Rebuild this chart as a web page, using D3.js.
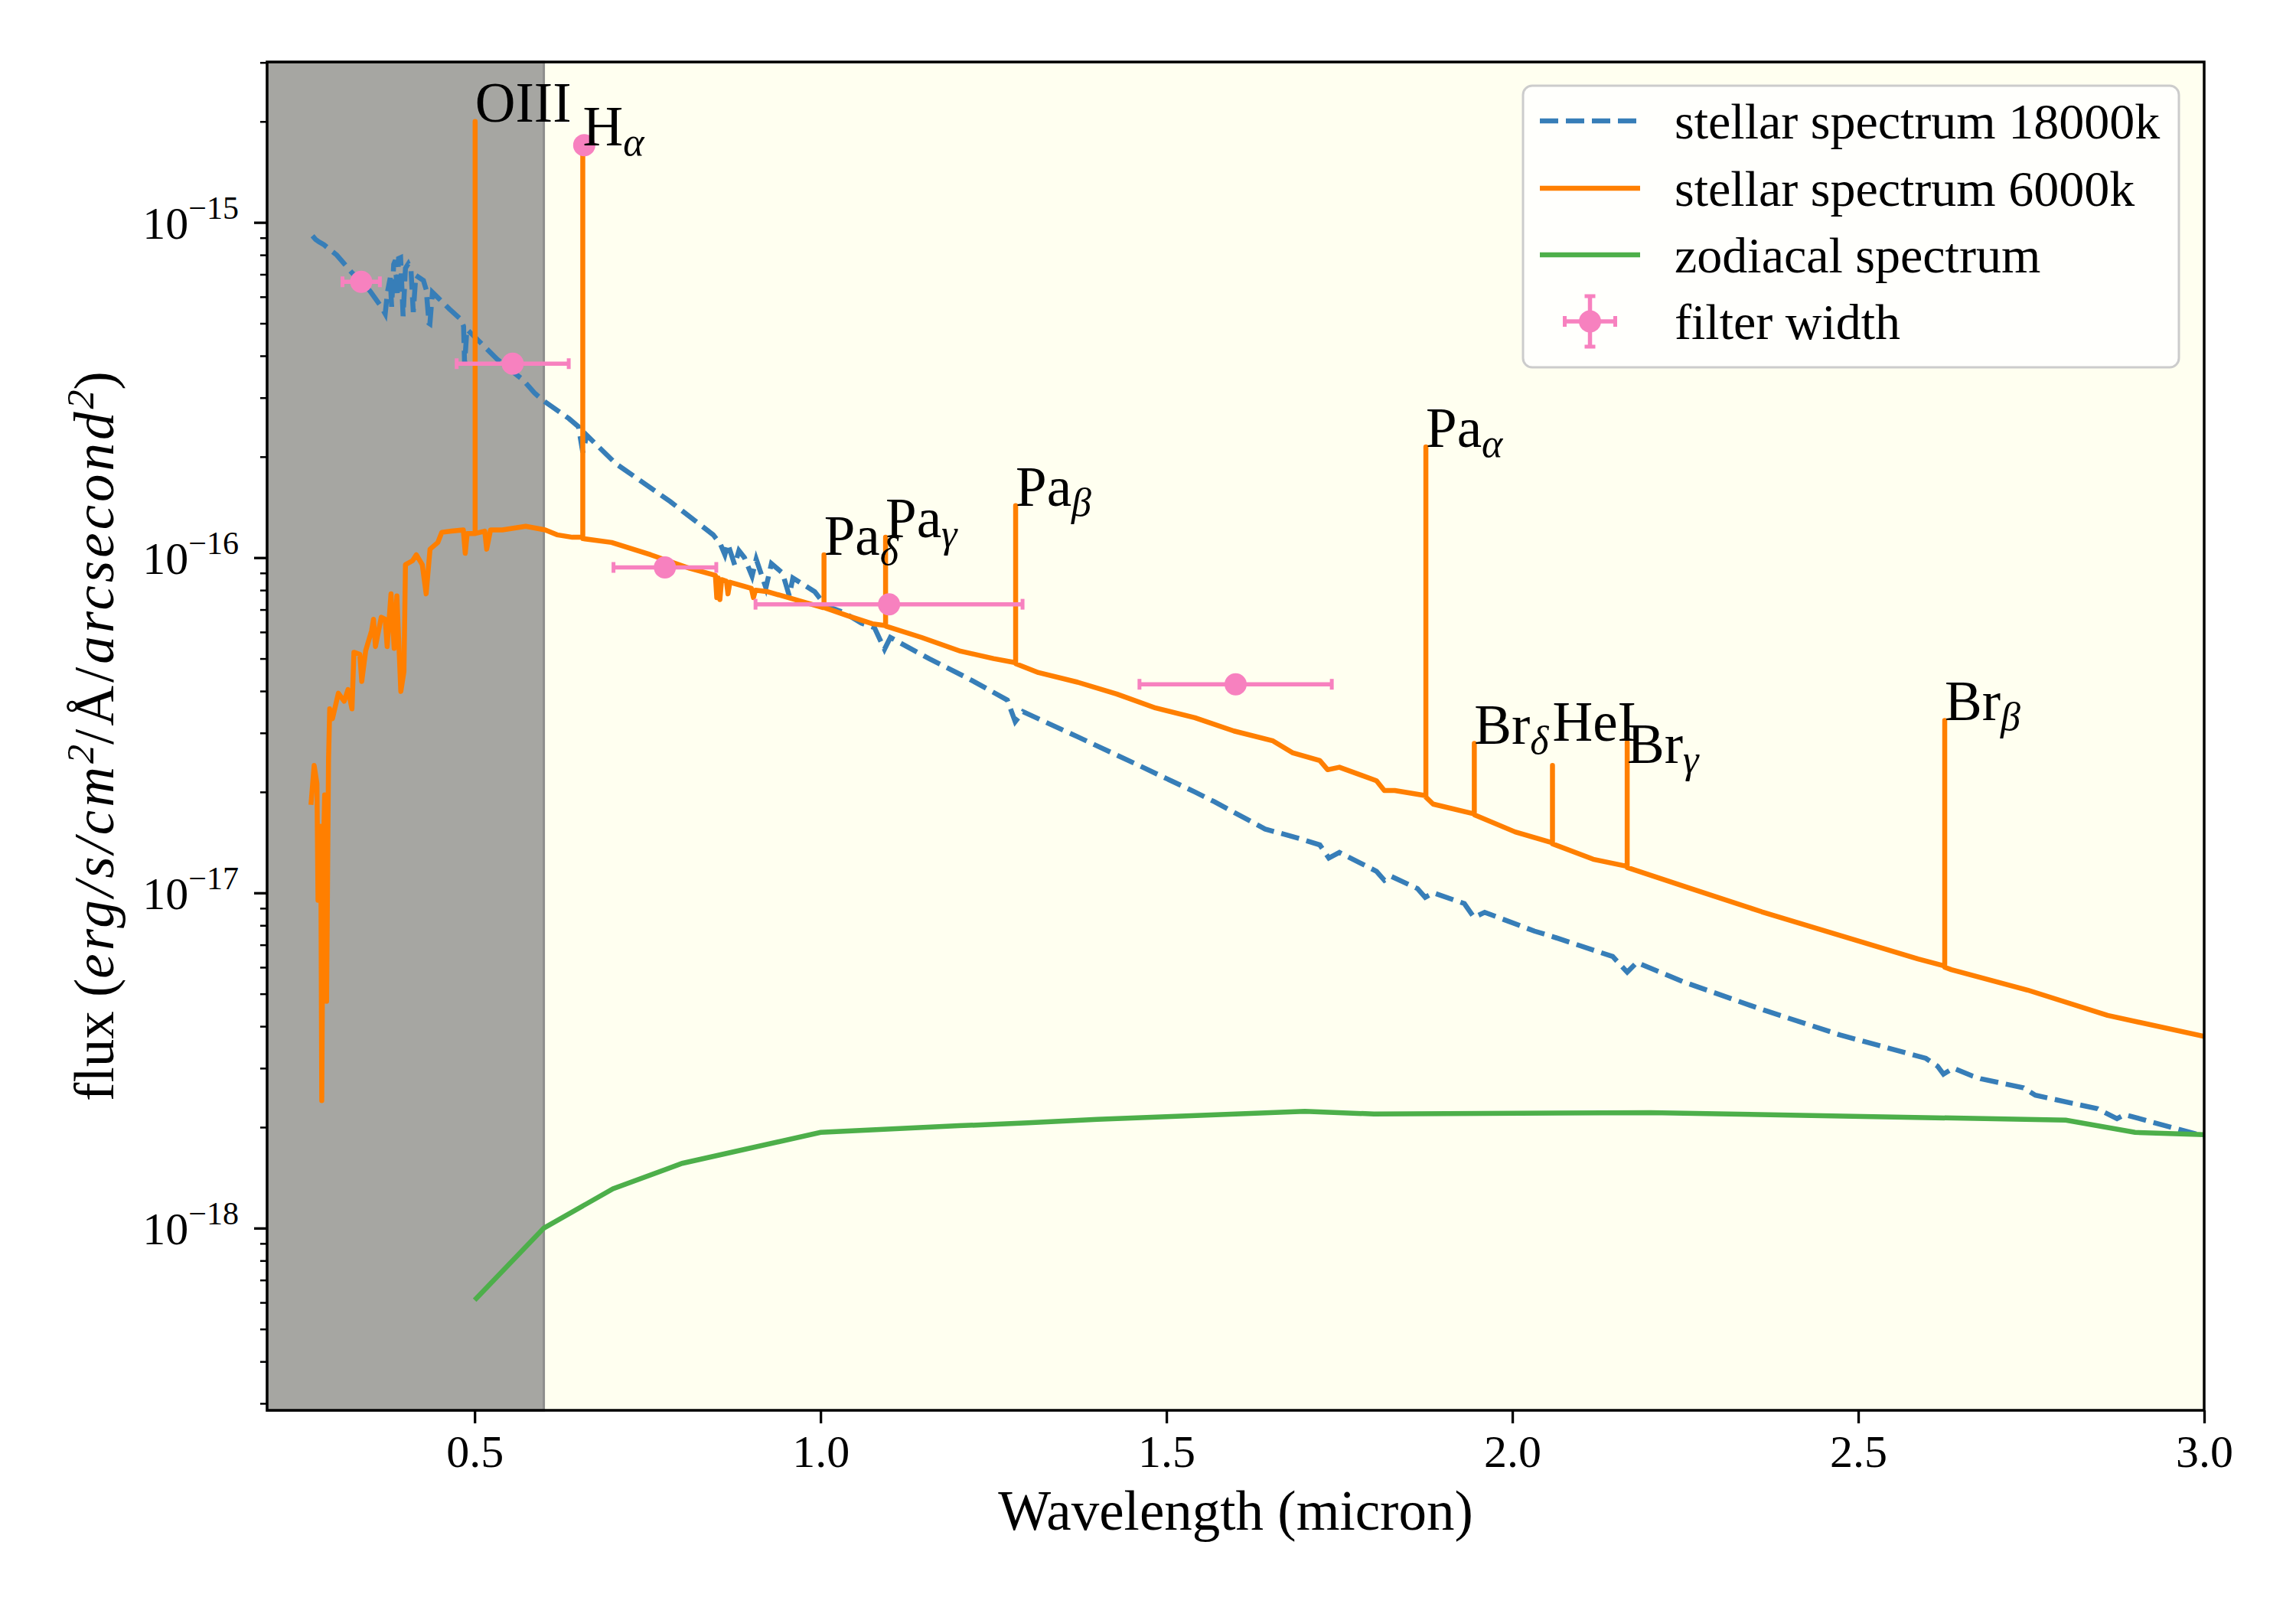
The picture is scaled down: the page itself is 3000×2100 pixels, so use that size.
<!DOCTYPE html>
<html>
<head>
<meta charset="utf-8">
<script src="https://cdn.jsdelivr.net/npm/d3@7"></script>
<style>
  body { margin: 0; background: #fff; }
  text { font-family: "Liberation Serif", serif; fill: #000; }
</style>
</head>
<body>
<div id="fig"></div>
<script>
// stellar spectrum 18000k : [wavelength (micron), flux]
var star18000 = [
  [0.2656,9.12e-16],[0.2700,8.9e-16],[0.2750,8.75e-16],[0.2820,8.58e-16],[0.3007,7.99e-16],
  [0.3228,7.07e-16],[0.3486,6.25e-16],[0.3650,5.6e-16],[0.3707,5.34e-16],[0.3740,6.2e-16],
  [0.3780,6.83e-16],[0.3800,5.6e-16],[0.3830,7.5e-16],[0.3855,7.71e-16],[0.3880,6.0e-16],
  [0.3900,7.8e-16],[0.3930,7.85e-16],[0.3966,5.25e-16],[0.4000,7.3e-16],[0.4040,7.52e-16],
  [0.4080,7.2e-16],[0.4113,5.40e-16],[0.4150,6.95e-16],[0.4260,6.71e-16],[0.4300,6.3e-16],
  [0.4340,5.0e-16],[0.4353,4.98e-16],[0.4390,6.19e-16],[0.4482,5.93e-16],[0.4630,5.53e-16],
  [0.4796,5.15e-16],[0.4840,4.9e-16],[0.4855,3.76e-16],[0.4888,4.80e-16],[0.4962,4.64e-16],
  [0.5330,3.90e-16],[0.5700,3.39e-16],[0.5865,3.10e-16],[0.5994,2.94e-16],[0.6362,2.60e-16],
  [0.6500,2.46e-16],[0.6563,2.06e-16],[0.6620,2.32e-16],[0.7037,1.91e-16],[0.7827,1.47e-16],
  [0.8448,1.17e-16],[0.8550,1.1e-16],[0.8617,1.02e-16],[0.8660,1.1e-16],[0.8760,9.5e-17],
  [0.8820,1.05e-16],[0.8900,1.0e-16],[0.9010,8.8e-17],[0.9070,9.9e-17],[0.9210,8.13e-17],
  [0.9290,9.6e-17],[0.9450,9.0e-17],[0.9548,7.69e-17],[0.9600,8.7e-17],[0.9916,7.91e-17],
  [1.005,7.3e-17],[1.014,7.10e-17],[1.033,6.87e-17],[1.059,6.38e-17],[1.078,6.18e-17],
  [1.0924,5.33e-17],[1.1009,5.78e-17],[1.1573,4.99e-17],[1.2137,4.36e-17],[1.270,3.76e-17],
  [1.2814,3.24e-17],[1.2927,3.47e-17],[1.3718,2.92e-17],[1.4564,2.42e-17],[1.541,2.00e-17],
  [1.5693,1.87e-17],[1.6426,1.55e-17],[1.6935,1.45e-17],[1.7217,1.39e-17],[1.7347,1.27e-17],
  [1.750,1.32e-17],[1.8036,1.16e-17],[1.8150,1.09e-17],[1.8250,1.12e-17],[1.8628,1.03e-17],
  [1.874,9.70e-18],[1.886,1.0e-17],[1.9306,9.29e-18],[1.9446,8.45e-18],[1.960,8.75e-18],
  [2.032,7.69e-18],[2.0586,7.40e-18],[2.145,6.46e-18],[2.166,5.80e-18],[2.180,6.2e-18],
  [2.248,5.42e-18],[2.3606,4.49e-18],[2.4735,3.77e-18],[2.5977,3.21e-18],[2.6147,3.04e-18],
  [2.6232,2.88e-18],[2.6373,3.0e-18],[2.6655,2.84e-18],[2.677,2.79e-18],[2.739,2.62e-18],
  [2.756,2.49e-18],[2.846,2.27e-18],[2.874,2.12e-18],[2.885,2.18e-18],[3.0,1.88e-18]
];

// stellar spectrum 6000k, emission lines included as spikes
var star6000 = [
  [0.2634,1.83e-17],[0.2680,2.40e-17],[0.2720,2.12e-17],[0.2736,9.5e-18],[0.2775,1.58e-17],
  [0.2790,2.4e-18],[0.2810,1.2e-17],[0.2832,1.96e-17],[0.2860,4.75e-18],[0.2888,2.50e-17],
  [0.2905,3.54e-17],[0.2945,3.31e-17],[0.3030,3.94e-17],[0.3114,3.73e-17],[0.3170,4.04e-17],
  [0.3227,3.54e-17],[0.3255,5.22e-17],[0.3340,5.15e-17],[0.3368,4.27e-17],[0.3425,5.28e-17],
  [0.3510,6.05e-17],[0.3538,6.55e-17],[0.3566,5.43e-17],[0.3650,6.64e-17],[0.3707,6.55e-17],
  [0.3735,5.43e-17],[0.3791,7.80e-17],[0.3837,5.36e-17],[0.3876,7.69e-17],[0.3933,3.99e-17],
  [0.3978,4.57e-17],[0.4000,9.53e-17],[0.4102,9.79e-17],[0.4157,1.02e-16],[0.4243,9.53e-17],
  [0.4299,7.80e-17],[0.4355,1.06e-16],[0.4468,1.11e-16],[0.4525,1.19e-16],[0.4667,1.20e-16],
  [0.4836,1.21e-16],[0.4864,1.03e-16],[0.4892,1.18e-16],
  [0.5007,1.18e-16],[0.5007,2.0e-15],[0.5007,1.18e-16],
  [0.5146,1.20e-16],[0.5174,1.06e-16],[0.5230,1.21e-16],[0.5400,1.21e-16],[0.5738,1.24e-16],
  [0.6020,1.21e-16],[0.6190,1.17e-16],[0.6414,1.15e-16],
  [0.6563,1.15e-16],[0.6563,1.7e-15],[0.6563,1.14e-16],
  [0.6980,1.11e-16],[0.7545,1.02e-16],[0.8110,9.29e-17],[0.8480,8.85e-17],[0.8500,7.6e-17],
  [0.8520,8.7e-17],[0.8545,7.5e-17],[0.8570,8.6e-17],[0.8640,8.5e-17],[0.8662,7.8e-17],
  [0.8690,8.45e-17],[0.9000,8.1e-17],[0.9030,7.6e-17],[0.9060,8.0e-17],[0.9239,7.91e-17],
  [1.003,7.10e-17],
  [1.005,7.16e-17],[1.005,1.02e-16],[1.005,7.10e-17],
  [1.040,6.7e-17],[1.075,6.35e-17],
  [1.094,6.27e-17],[1.094,1.15e-16],[1.094,6.25e-17],
  [1.146,5.78e-17],[1.2023,5.26e-17],[1.250,5.0e-17],
  [1.282,4.86e-17],[1.282,1.43e-16],[1.282,4.83e-17],
  [1.315,4.54e-17],[1.3716,4.25e-17],[1.428,3.92e-17],[1.4844,3.56e-17],[1.541,3.33e-17],
  [1.5975,3.04e-17],[1.654,2.84e-17],[1.682,2.62e-17],[1.7217,2.48e-17],[1.733,2.33e-17],
  [1.750,2.37e-17],[1.8036,2.16e-17],[1.8149,2.02e-17],[1.830,2.02e-17],
  [1.875,1.95e-17],[1.875,2.14e-16],[1.875,1.93e-17],
  [1.8854,1.84e-17],
  [1.945,1.72e-17],[1.945,2.79e-17],[1.945,1.71e-17],
  [2.004,1.52e-17],
  [2.058,1.41e-17],[2.058,2.40e-17],[2.058,1.40e-17],
  [2.1168,1.26e-17],
  [2.166,1.20e-17],[2.166,2.81e-17],[2.166,1.19e-17],
  [2.258,1.03e-17],[2.3606,8.78e-18],[2.4735,7.47e-18],[2.5864,6.35e-18],
  [2.625,6.05e-18],[2.625,3.27e-17],[2.625,6.0e-18],
  [2.6345,5.90e-18],[2.7446,5.13e-18],[2.8604,4.31e-18],[3.0,3.73e-18]
];

// zodiacal spectrum
var zodiacal = [
  [0.5,6.1e-19],[0.6,1.0e-18],[0.7,1.31e-18],[0.8,1.56e-18],[1.0,1.93e-18],[1.2,2.02e-18],
  [1.3,2.06e-18],[1.4,2.11e-18],[1.5,2.15e-18],[1.7,2.23e-18],[1.8,2.19e-18],[2.2,2.21e-18],
  [2.8,2.10e-18],[2.9,1.93e-18],[3.0,1.90e-18]
];

// filter width points
var filterCenter = [0.336, 0.555, 0.6584, 0.775, 1.099, 1.600];
var filterFlux   = [6.65e-16, 3.79e-16, 1.70e-15, 9.35e-17, 7.26e-17, 4.19e-17];
var filterHalf   = [0.027, 0.081, 0.003, 0.0743, 0.193, 0.139];

// emission line labels
var lineNames = ["OIII", "H", "Pa", "Pa", "Pa", "Pa", "Br", "HeI", "Br", "Br"];
var lineSubs  = ["", "α", "δ", "γ", "β", "α", "δ", "", "γ", "β"];
var lineWave  = [0.5007, 0.6563, 1.005, 1.094, 1.282, 1.875, 1.945, 2.058, 2.166, 2.625];
var labelFlux = [2.0e-15, 1.7e-15, 1.02e-16, 1.15e-16, 1.43e-16, 2.14e-16, 2.79e-17, 2.84e-17, 2.44e-17, 3.27e-17];

var xTicks = [0.5, 1.0, 1.5, 2.0, 2.5, 3.0];
var yTicksMajor = [1e-18, 1e-17, 1e-16, 1e-15];
var yTickExp = ["−18", "−17", "−16", "−15"];

var legendLabels = ["stellar spectrum 18000k", "stellar spectrum 6000k", "zodiacal spectrum", "filter width"];

var blue = "#377eb8", orange = "#ff7f00", green = "#4daf4a", pink = "#f781bf";
var lw = 6.5;

var W = 3000, H = 2100;
var pL = 349, pR = 2880, pT = 81, pB = 1843;

var svg = d3.select("#fig").append("svg")
  .attr("width", W).attr("height", H);

var x = d3.scaleLinear().domain([0.2, 3.0]).range([pL, pR]);
var y = d3.scaleLog().domain([2.86e-19, 3.01e-15]).range([pB, pT]);

svg.append("defs").append("clipPath").attr("id", "clip")
  .append("rect").attr("x", pL).attr("y", pT)
  .attr("width", pR - pL).attr("height", pB - pT);

// axes background
svg.append("rect").attr("x", pL).attr("y", pT)
  .attr("width", pR - pL).attr("height", pB - pT)
  .attr("fill", "#fffff0");

// blocked region
svg.append("rect").attr("x", x(0.2)).attr("y", pT)
  .attr("width", x(0.6) - x(0.2)).attr("height", pB - pT)
  .attr("fill", "#a6a6a2").attr("stroke", "#8e8e8c").attr("stroke-width", 3);

var plot = svg.append("g").attr("clip-path", "url(#clip)");
var line = d3.line().x(function(d) { return x(d[0]); }).y(function(d) { return y(d[1]); });

plot.append("path").datum(star18000).attr("d", line)
  .attr("fill", "none").attr("stroke", blue).attr("stroke-width", lw)
  .attr("stroke-dasharray", "24,10");

plot.append("path").datum(star6000).attr("d", line)
  .attr("fill", "none").attr("stroke", orange).attr("stroke-width", lw)
  .attr("stroke-linejoin", "round");

plot.append("path").datum(zodiacal).attr("d", line)
  .attr("fill", "none").attr("stroke", green).attr("stroke-width", lw);

// filter error bars
var eb = plot.append("g");
filterCenter.forEach(function(c, i) {
  var yy = y(filterFlux[i]), x0 = x(c - filterHalf[i]), x1 = x(c + filterHalf[i]);
  eb.append("line").attr("x1", x0).attr("x2", x1).attr("y1", yy).attr("y2", yy)
    .attr("stroke", pink).attr("stroke-width", 5.5);
  [x0, x1].forEach(function(xc) {
    eb.append("line").attr("x1", xc).attr("x2", xc).attr("y1", yy - 7).attr("y2", yy + 7)
      .attr("stroke", pink).attr("stroke-width", 5);
  });
  eb.append("circle").attr("cx", x(c)).attr("cy", yy).attr("r", 14.5).attr("fill", pink);
});

// line labels
lineNames.forEach(function(n, i) {
  var t = svg.append("text").attr("x", x(lineWave[i])).attr("y", y(labelFlux[i]))
    .style("font-size", "73px");
  t.append("tspan").text(n);
  if (lineSubs[i]) {
    t.append("tspan").attr("dy", 13).style("font-size", "52px")
      .style("font-style", "italic").text(lineSubs[i]);
  }
});

// x axis
var xAxis = d3.axisBottom(x).tickValues(xTicks).tickFormat(d3.format(".1f"))
  .tickSize(17).tickSizeOuter(0).tickPadding(14);
var gx = svg.append("g").attr("transform", "translate(0," + pB + ")").call(xAxis);
gx.select(".domain").remove();
gx.selectAll(".tick line").attr("stroke", "#000").attr("stroke-width", 3.3);
gx.selectAll(".tick text").style("font-size", "60px").style("font-family", "Liberation Serif, serif");

// y axis: minor ticks
var minor = [];
for (var e = -19; e <= -15; e++) {
  for (var m = 2; m <= 9; m++) {
    var v = m * Math.pow(10, e);
    if (v >= y.domain()[0] && v <= y.domain()[1]) minor.push(v);
  }
}
var gyMinor = svg.append("g").attr("transform", "translate(" + pL + ",0)")
  .call(d3.axisLeft(y).tickValues(minor).tickFormat("").tickSize(9).tickSizeOuter(0));
gyMinor.select(".domain").remove();
gyMinor.selectAll(".tick line").attr("stroke", "#000").attr("stroke-width", 2.5);

var gy = svg.append("g").attr("transform", "translate(" + pL + ",0)")
  .call(d3.axisLeft(y).tickValues(yTicksMajor).tickFormat("").tickSize(17).tickSizeOuter(0));
gy.select(".domain").remove();
gy.selectAll(".tick line").attr("stroke", "#000").attr("stroke-width", 3.3);

yTicksMajor.forEach(function(v, i) {
  var t = svg.append("text").attr("x", pL - 37).attr("y", y(v) + 21)
    .attr("text-anchor", "end").style("font-size", "60px");
  t.append("tspan").text("10");
  t.append("tspan").attr("dy", -26).style("font-size", "42px").text(yTickExp[i]);
});

// frame
svg.append("rect").attr("x", pL).attr("y", pT)
  .attr("width", pR - pL).attr("height", pB - pT)
  .attr("fill", "none").attr("stroke", "#000").attr("stroke-width", 3.5);

// axis labels
svg.append("text").attr("x", (pL + pR) / 2).attr("y", 1999)
  .attr("text-anchor", "middle").style("font-size", "73px").text("Wavelength (micron)");

var yl = svg.append("text").attr("transform", "translate(148," + ((pT + pB) / 2) + ") rotate(-90)")
  .attr("text-anchor", "middle").style("font-size", "73px");
yl.append("tspan").text("flux (");
yl.append("tspan").style("font-style", "italic").style("letter-spacing", "4px").text("erg/s/cm");
yl.append("tspan").attr("dy", -26).style("font-size", "50px").style("font-style", "italic").text("2");
yl.append("tspan").attr("dy", 26).style("letter-spacing", "4px").text("/Å/");
yl.append("tspan").style("font-style", "italic").style("letter-spacing", "4px").text("arcsecond");
yl.append("tspan").attr("dy", -26).style("font-size", "50px").style("font-style", "italic").text("2");
yl.append("tspan").attr("dy", 26).text(")");

// legend
var lg = svg.append("g");
lg.append("rect").attr("x", 1990).attr("y", 112).attr("width", 857).attr("height", 368)
  .attr("rx", 12).attr("fill", "#ffffff").attr("fill-opacity", 0.8)
  .attr("stroke", "#cccccc").attr("stroke-width", 3);
var rowY = [158, 246, 333, 420];
var sx0 = 2012, sx1 = 2143;
lg.append("line").attr("x1", sx0).attr("x2", sx1).attr("y1", rowY[0]).attr("y2", rowY[0])
  .attr("stroke", blue).attr("stroke-width", lw).attr("stroke-dasharray", "24,10");
lg.append("line").attr("x1", sx0).attr("x2", sx1).attr("y1", rowY[1]).attr("y2", rowY[1])
  .attr("stroke", orange).attr("stroke-width", lw);
lg.append("line").attr("x1", sx0).attr("x2", sx1).attr("y1", rowY[2]).attr("y2", rowY[2])
  .attr("stroke", green).attr("stroke-width", lw);
var cx = (sx0 + sx1) / 2, cy = rowY[3];
lg.append("line").attr("x1", cx - 33).attr("x2", cx + 33).attr("y1", cy).attr("y2", cy)
  .attr("stroke", pink).attr("stroke-width", 5.5);
lg.append("line").attr("x1", cx).attr("x2", cx).attr("y1", cy - 33).attr("y2", cy + 33)
  .attr("stroke", pink).attr("stroke-width", 5.5);
[[cx - 33, cy, 0], [cx + 33, cy, 0], [cx, cy - 33, 1], [cx, cy + 33, 1]].forEach(function(c) {
  if (c[2] === 0) {
    lg.append("line").attr("x1", c[0]).attr("x2", c[0]).attr("y1", c[1] - 7).attr("y2", c[1] + 7)
      .attr("stroke", pink).attr("stroke-width", 5);
  } else {
    lg.append("line").attr("x1", c[0] - 7).attr("x2", c[0] + 7).attr("y1", c[1]).attr("y2", c[1])
      .attr("stroke", pink).attr("stroke-width", 5);
  }
});
lg.append("circle").attr("cx", cx).attr("cy", cy).attr("r", 14.5).attr("fill", pink);

legendLabels.forEach(function(l, i) {
  lg.append("text").attr("x", 2188).attr("y", rowY[i] + 23)
    .style("font-size", "66px").text(l);
});
</script>
</body>
</html>
